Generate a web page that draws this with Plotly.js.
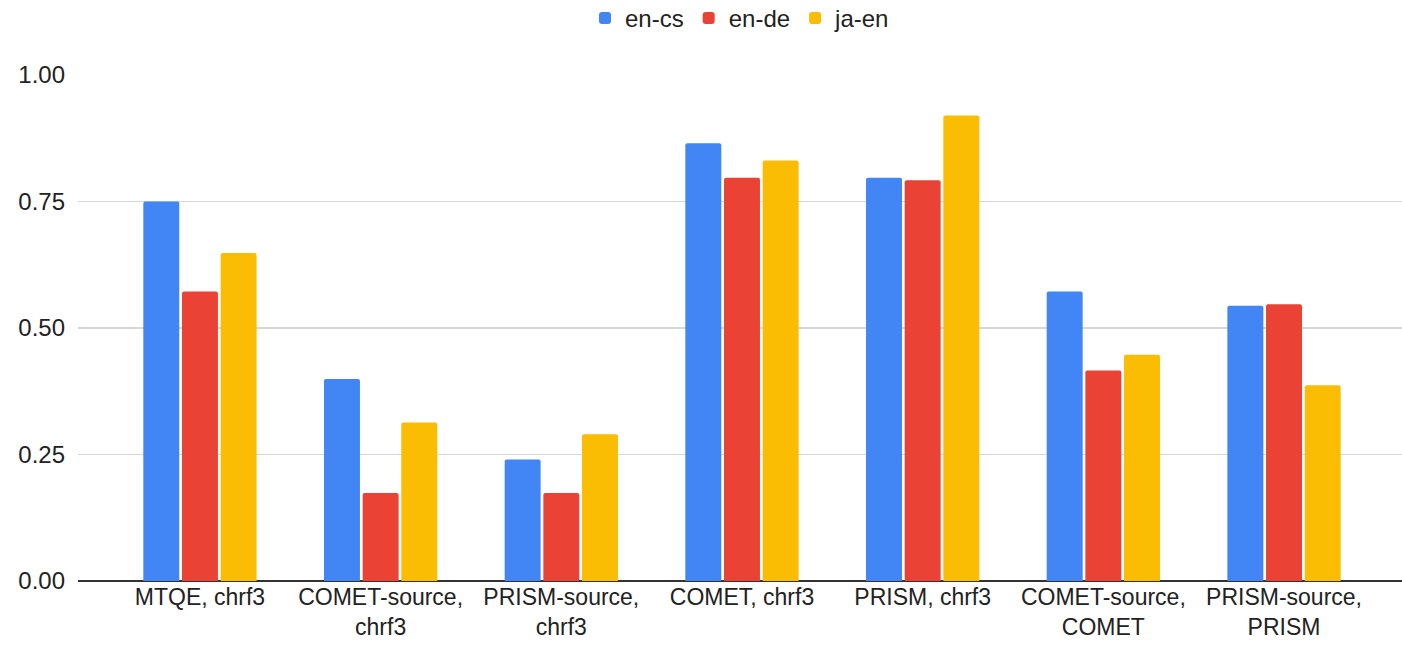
<!DOCTYPE html>
<html>
<head>
<meta charset="utf-8">
<script src="https://cdn.plot.ly/plotly-3.0.1.min.js"></script>
<style>html,body{margin:0;padding:0;background:#fff;}#chart{width:1402px;height:649px;}</style>
</head>
<body>
<div id="chart"></div>
<script>
const categories = ["MTQE, chrf3", "COMET-source,<br>chrf3", "PRISM-source,<br>chrf3", "COMET, chrf3", "PRISM, chrf3", "COMET-source,<br>COMET", "PRISM-source,<br>PRISM"];
const enCs = [0.750, 0.399, 0.240, 0.865, 0.797, 0.572, 0.544];
const enDe = [0.572, 0.174, 0.174, 0.797, 0.792, 0.416, 0.547];
const jaEn = [0.648, 0.313, 0.290, 0.831, 0.920, 0.447, 0.387];
const seriesNames = ["en-cs", "en-de", "ja-en"];
const tickVals = [0, 0.25, 0.5, 0.75, 1.0];
const tickText = ["0.00", "0.25", "0.50", "0.75", "1.00"];

const colors = ["#4285F4", "#EA4335", "#FBBC04"];
const idx = categories.map((c, i) => i);
const traces = [enCs, enDe, jaEn].map((vals, k) => ({
  type: "bar",
  name: seriesNames[k],
  x: idx,
  y: vals,
  marker: {color: colors[k], line: {width: 0}, cornerradius: 2},
  hoverinfo: "y"
}));

const layout = {
  width: 1402, height: 649,
  margin: {l: 78, r: 0, t: 75, b: 68, autoexpand: false},
  paper_bgcolor: "#fff", plot_bgcolor: "#fff",
  font: {family: "Arial, 'Liberation Sans', sans-serif", size: 23, color: "#222"},
  barmode: "group",
  bargap: 0.358,
  bargroupgap: 0.07,
  showlegend: true,
  legend: {orientation: "h", x: 0.5, xanchor: "center", y: 1.112, yanchor: "middle",
           font: {size: 24, color: "#222"}, itemwidth: 30, tracegroupgap: 0},
  xaxis: {
    range: [-0.675, 6.653],
    tickmode: "array", tickvals: idx, ticktext: categories,
    showgrid: false, zeroline: false, showline: false, ticks: "",
    tickfont: {size: 23, color: "#222"}
  },
  yaxis: {
    range: [0, 1.0],
    tickmode: "array", tickvals: tickVals, ticktext: tickText,
    showgrid: true, gridcolor: "#d6d6d6", gridwidth: 1.5,
    zeroline: true, zerolinecolor: "#333", zerolinewidth: 1.5,
    showline: false, ticks: "",
    tickfont: {size: 24, color: "#222"},
    ticklabelstandoff: 12
  }
};

Plotly.newPlot("chart", traces, layout, {displayModeBar: false, staticPlot: true});
</script>
</body>
</html>
